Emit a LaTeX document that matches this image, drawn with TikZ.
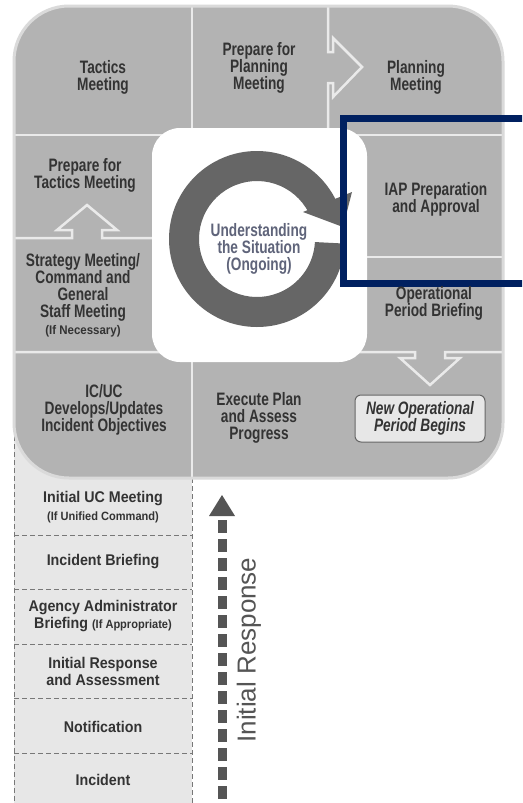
\documentclass[tikz,border=0pt]{standalone}
\usepackage{fontspec}
\setmainfont[FakeStretch=0.76]{Liberation Sans}
\newfontfamily\lowfont[FakeStretch=0.92]{Liberation Sans}
\newfontfamily\plainfont{Liberation Sans}
\definecolor{bgc}{RGB}{179,179,179}
\definecolor{sepc}{RGB}{234,234,234}
\definecolor{bordc}{RGB}{218,218,218}
\definecolor{lightc}{RGB}{231,231,231}
\definecolor{ringc}{RGB}{102,102,102}
\definecolor{txt}{RGB}{51,51,51}
\definecolor{undtxt}{RGB}{95,100,122}
\definecolor{navyc}{RGB}{0,32,96}
\definecolor{arrc}{RGB}{85,85,85}
\definecolor{dashc}{RGB}{120,120,120}
\tikzset{
  lbl/.style={align=center, text=txt, inner sep=0pt, font=\bfseries\fontsize{18}{17}\selectfont},
  lowlbl/.style={align=center, text=txt, inner sep=0pt, font=\lowfont\bfseries\fontsize{15.5}{17}\selectfont},
  sepline/.style={draw=sepc, line width=2.5pt, line join=miter},
  coldash/.style={draw=dashc, line width=0.9pt, dash pattern=on 5pt off 3pt},
}
\newcommand{\smalltx}[1]{{\lowfont\fontsize{12.5}{14}\selectfont #1}}
\begin{document}
\begin{tikzpicture}[x=1pt,y=1pt]
\useasboundingbox (0,0) rectangle (522,-803);
\clip (0,0) rectangle (522,-803);
\fill[white] (0,0) rectangle (522,-803);
% lower light column
\fill[lightc] (14,-420) rectangle (192,-810);
\draw[coldash] (14,-420) -- (14,-810);
\draw[coldash] (192,-478) -- (192,-810);
\foreach \yy in {535,589,644,698,753} \draw[coldash] (14,-\yy) -- (192,-\yy);
% outer gray shape
\fill[bgc, rounded corners=55pt] (14,-6) rectangle (503,-478);
% separators
\draw[sepline] (192,-6) -- (192,-135);
\draw[sepline] (328,-6) -- (328,-52) -- (333,-52) -- (333,-38) -- (362,-67) -- (333,-97) -- (333,-83) -- (328,-83) -- (328,-135);
\draw[sepline] (14,-135) -- (503,-135);
\draw[sepline] (14,-238) -- (72,-238) -- (72,-230) -- (57,-230) -- (87,-205) -- (117,-230) -- (102,-230) -- (102,-238) -- (152,-238);
\draw[sepline] (367,-257) -- (503,-257);
\draw[sepline] (14,-352) -- (415,-352) -- (415,-358) -- (400,-358) -- (430,-385) -- (460,-358) -- (445,-358) -- (445,-352) -- (503,-352);
\draw[sepline] (192,-352) -- (192,-478);
\draw[bordc, line width=3pt, rounded corners=55pt] (14,-6) rectangle (503,-478);
% center white square
\fill[white, rounded corners=28pt] (152,-128) rectangle (367,-362);
% ring arrow
\begin{scope}[shift={(257,-239)}]
\fill[ringc] (-3:88) arc[start angle=-3, end angle=-333, radius=88] -- (-333:58) arc[start angle=-333, end angle=-3, radius=58] -- cycle;
\end{scope}
\fill[ringc] (303,-212) -- (352,-192) -- (343,-227) -- cycle;
% blue frame
\draw[navyc, line width=7pt] (343.5,-118.5) rectangle (600,-283.5);
% labels
\node[lbl] (tac) at (103,-77) {Tactics\\Meeting};
\node[lbl] (ppm) at (259,-68) {Prepare for\\Planning\\Meeting};
\node[lbl] (pm) at (416,-77) {Planning\\Meeting};
\node[lbl] (ptm) at (85,-175) {Prepare for\\Tactics Meeting};
\node[lbl] (strat) at (83,-295) {Strategy Meeting/\\Command and\\General\\Staff Meeting\\\smalltx{(If Necessary)}};
\node[lbl] (iap) at (436,-199) {IAP Preparation\\and Approval};
\node[lbl] (opb) at (434,-303) {Operational\\Period Briefing};
\node[lbl] (icuc) at (104,-410) {IC/UC\\Develops/Updates\\Incident Objectives};
\node[lbl] (exe) at (259,-418) {Execute Plan\\and Assess\\Progress};
\node[lbl, text=undtxt] (und) at (259,-249) {Understanding\\the Situation\\(Ongoing)};
\node[lbl, font=\bfseries\itshape\fontsize{18}{17}\selectfont, fill=lightc, draw=ringc, line width=1pt, rounded corners=6pt, minimum width=130pt, minimum height=47pt] (newop) at (420,-418.5) {New Operational\\Period Begins};
% lower items
\node[lowlbl] (ucm) at (103,-507) {Initial UC Meeting\\[1pt]{\fontsize{12}{13}\selectfont (If Unified Command)}};
\node[lowlbl] (ib) at (103,-562) {Incident Briefing};
\node[lowlbl] (aab) at (103,-616) {Agency Administrator\\Briefing {\fontsize{12}{13}\selectfont (If Appropriate)}};
\node[lowlbl] (ira) at (103,-671) {Initial Response\\and Assessment};
\node[lowlbl] (notif) at (103,-727) {Notification};
\node[lowlbl] (inc) at (103,-780) {Incident};
% initial response arrow
\coordinate (arrbot) at (222,-810);
\coordinate (arrtop) at (222,-520);
\draw[arrc, line width=9pt, dash pattern=on 13pt off 6pt] (arrtop) -- (arrbot);
\fill[arrc] (209,-516) -- (222,-495) -- (235,-516) -- cycle;
\node[rotate=90, text=arrc, inner sep=0pt, font=\plainfont\fontsize{26}{26}\selectfont] (ir) at (249,-650) {Initial Response};
\end{tikzpicture}
\end{document}
